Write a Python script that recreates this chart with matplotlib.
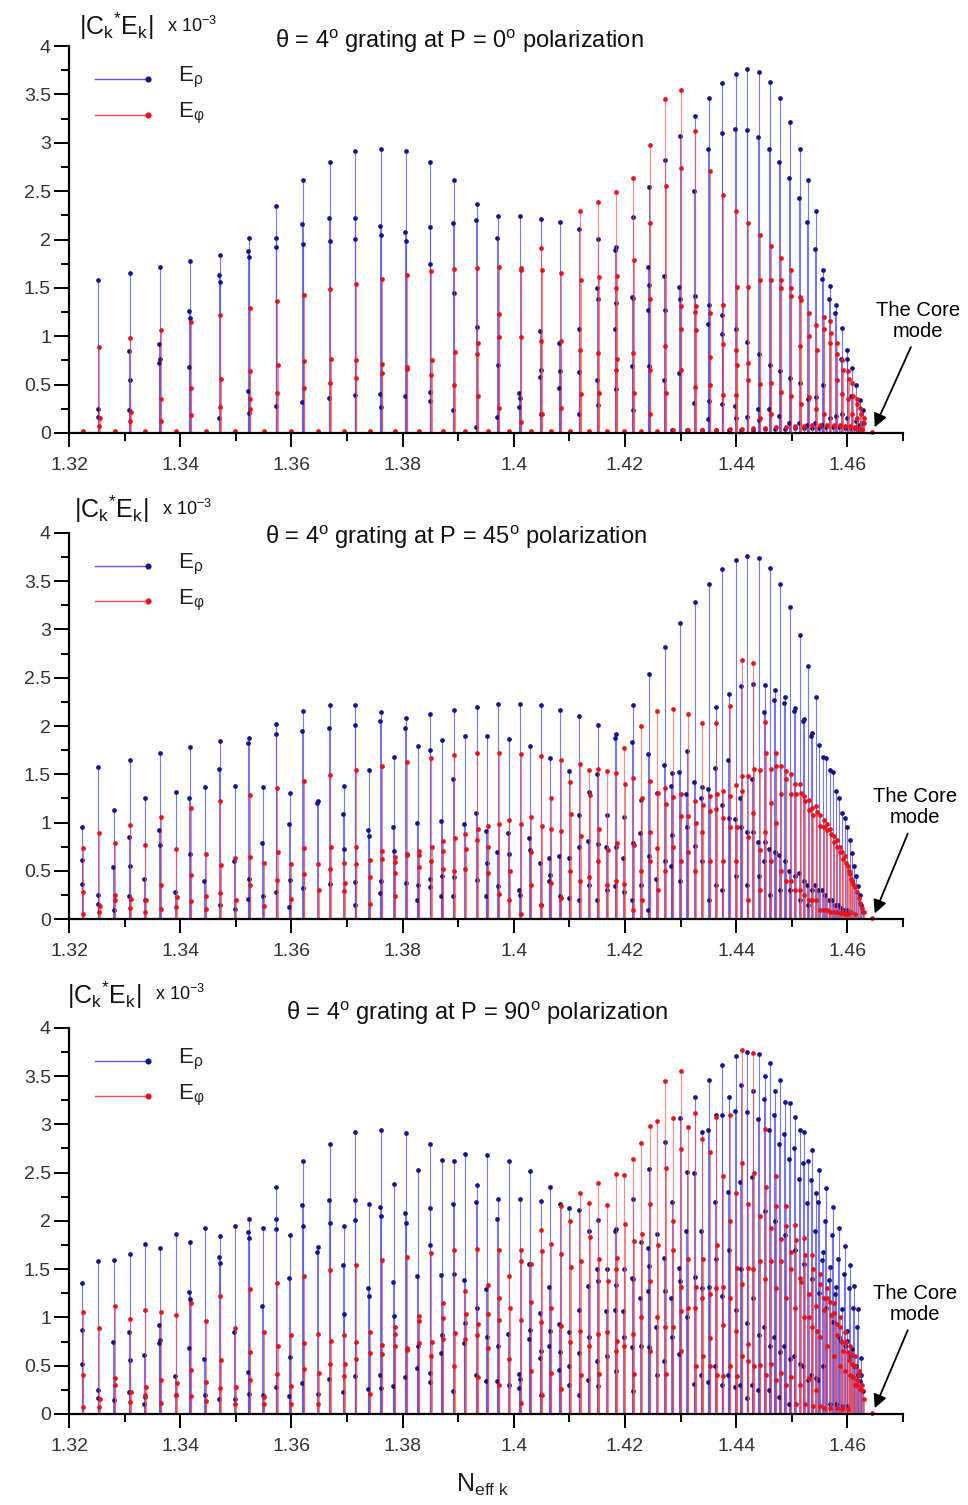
import numpy as np
import matplotlib
matplotlib.use("Agg")
import matplotlib.pyplot as plt

plt.rcParams['font.family'] = ['Liberation Sans', 'DejaVu Sans']
plt.rcParams['mathtext.fontset'] = 'custom'
plt.rcParams['mathtext.rm'] = 'Liberation Sans'
plt.rcParams['mathtext.it'] = 'Liberation Sans:italic'

# effective index of the cladding modes (same set in all three panels)
neff = [1.3224, 1.3253, 1.3281, 1.3309, 1.3336, 1.3364, 1.3392, 1.3418, 1.3445, 1.3471,
        1.3498, 1.3524, 1.3549, 1.3573, 1.3598, 1.3621, 1.3647, 1.3669, 1.3694, 1.3715,
        1.3740, 1.3761, 1.3785, 1.3806, 1.3828, 1.3850, 1.3871, 1.3892, 1.3912, 1.3933,
        1.3952, 1.3972, 1.3991, 1.4011, 1.4029, 1.4048, 1.4065, 1.4083, 1.4100, 1.4118,
        1.4135, 1.4151, 1.4167, 1.4183, 1.4198, 1.4214, 1.4228, 1.4243, 1.4257, 1.4271,
        1.4285, 1.4299, 1.4312, 1.4325, 1.4338, 1.4351, 1.4363, 1.4375, 1.4387, 1.4399,
        1.4409, 1.4420, 1.4430, 1.4441, 1.4451, 1.4461, 1.4470, 1.4479, 1.4488, 1.4497,
        1.4505, 1.4514, 1.4521, 1.4529, 1.4536, 1.4543, 1.4549, 1.4556, 1.4562, 1.4568,
        1.4574, 1.4580, 1.4585, 1.4590, 1.4595, 1.4600, 1.4604, 1.4608, 1.4612, 1.4616,
        1.4619, 1.4622, 1.4625, 1.4628]
core_neff = 1.4645

# P = 0 deg
p1_erho = [[], [1.58, 0.25, 0.17], [], [1.65, 0.85, 0.55, 0.24], [], [1.72, 0.92, 0.77, 0.72],
           [], [1.78, 1.26, 1.19, 0.68], [], [1.84, 1.63, 1.56, 0.15], [], [2.02, 1.88, 1.82, 0.43, 0.21],
           [], [2.35, 2.02, 1.92, 0.28], [], [2.62, 2.16, 1.95, 0.32], [], [2.80, 2.22, 1.98, 0.36],
           [], [2.92, 2.22, 2.01, 0.39], [], [2.94, 2.14, 2.05, 0.40, 0.27], [], [2.91, 2.08, 1.98, 0.38],
           [], [2.80, 2.13, 1.75, 0.42, 0.33], [], [2.62, 2.17, 1.45, 0.24], [], [2.37, 2.20, 1.10, 0.06],
           [], [2.24, 2.02, 0.70, 0.17], [], [2.24, 0.41, 0.36, 0.27], [], [2.21, 1.05, 0.65, 0.58, 0.20],
           [], [2.18, 0.93, 0.64, 0.46], [], [2.11, 1.08, 0.63, 0.20], [], [2.01, 1.50, 1.38, 0.55, 0.29],
           [], [1.92, 1.89, 1.34, 1.08, 0.45], [], [2.23, 1.41, 1.40, 0.69, 0.24], [], [2.54, 1.72, 1.53, 1.27, 0.69],
           [], [2.82, 1.62, 1.27, 0.55], [0.03], [3.07, 1.51, 1.38, 0.62], [0.03], [3.28, 2.50, 1.42, 0.31],
           [0.03], [3.46, 2.94, 1.32, 1.13, 0.33, 0.14], [0.03], [3.62, 3.10, 1.22, 1.02, 0.30],
           [0.03], [3.71, 3.14, 1.08, 0.28, 0.15], [0.03], [3.76, 3.13, 0.94, 0.17],
           [0.03], [3.73, 3.06, 0.82, 0.25, 0.13], [0.04], [3.63, 2.94, 0.70, 0.25],
           [0.04], [3.46, 2.80, 0.64, 0.18], [0.04], [3.22, 2.64, 0.57, 0.10],
           [0.05], [2.94, 2.43, 0.52, 0.10], [0.05], [2.62, 2.18, 0.35, 0.08],
           [0.05], [2.29, 1.90, 0.37, 0.10], [0.05], [1.68, 1.59, 0.50, 0.08],
           [0.06], [1.52, 1.39, 0.15], [0.06], [1.32, 1.24, 0.18], [0.06], [1.09, 0.76, 0.20],
           [0.05], [0.86, 0.76, 0.16], [0.05], [0.67, 0.38], [0.05], [0.50, 0.12],
           [0.04], [0.34, 0.08], [0.04], [0.24, 0.10]]
p1_ephi = [[0.02], [0.89, 0.15, 0.07], [0.02], [0.98, 0.22, 0.12], [0.02], [1.06, 0.35, 0.12],
           [0.02], [1.15, 0.46, 0.19], [0.02], [1.22, 0.56, 0.27], [0.02], [1.29, 0.64, 0.35, 0.25],
           [0.02], [1.36, 0.70, 0.41], [0.02], [1.43, 0.74, 0.47], [0.02], [1.49, 0.76, 0.52],
           [0.02], [1.54, 0.75, 0.57], [0.02], [1.59, 0.71, 0.62], [0.02], [1.63, 0.68, 0.66],
           [0.02], [1.67, 0.75, 0.60], [0.02], [1.70, 0.84, 0.50], [0.02], [1.71, 0.93, 0.82, 0.38],
           [0.02], [1.72, 1.23, 0.99, 0.26], [0.02], [1.71, 1.68, 0.99, 0.11], [0.02], [1.91, 1.69, 0.95, 0.20],
           [0.02], [1.65, 0.95, 0.26], [0.02], [2.29, 1.58, 0.86, 0.40], [0.02], [2.39, 1.61, 0.83, 0.41],
           [0.02], [2.49, 1.62, 1.50, 0.76, 0.65], [0.02], [2.64, 1.79, 0.83, 0.41], [0.02], [2.98, 2.17, 1.38, 0.65, 0.20],
           [0.02], [3.45, 2.55, 0.90, 0.41], [0.03], [3.55, 2.74, 1.31, 1.07, 0.65], [0.03], [3.12, 1.31, 1.25, 1.06, 0.48],
           [0.03], [2.71, 1.24, 0.79, 0.50], [0.03], [2.46, 1.32, 0.92, 0.39],
           [0.04], [2.29, 1.51, 0.86, 0.70, 0.39], [0.04], [2.17, 1.51, 0.72, 0.55],
           [0.05], [2.05, 1.58, 0.51, 0.16], [0.05], [1.93, 1.58, 0.52, 0.20],
           [0.06], [1.81, 1.58, 1.50, 0.42], [0.06], [1.68, 1.50, 1.42, 0.38],
           [0.07], [1.41, 1.37, 0.90, 0.30], [0.07], [1.24, 1.00, 0.37],
           [0.08], [1.12, 0.86, 0.25], [0.08], [1.20, 1.08, 0.20],
           [0.08], [1.16, 1.03, 0.93], [0.08], [0.93, 0.82, 0.55], [0.08], [0.75, 0.65, 0.40],
           [0.07], [0.64, 0.56, 0.35], [0.07], [0.52, 0.38, 0.20], [0.06], [0.35, 0.30, 0.15],
           [0.05], [0.26, 0.20], [0.04], [0.15, 0.10]]

# P = 45 deg
p2_erho = [[0.95, 0.61, 0.36], [1.58, 0.25, 0.16], [1.13, 0.54, 0.10], [1.65, 0.85, 0.55, 0.24],
           [1.25, 0.42, 0.20], [1.72, 0.92, 0.77], [1.32, 0.28], [1.78, 1.26, 0.68],
           [1.37, 0.40], [1.84, 1.56, 0.15], [1.38, 0.60, 0.11], [1.88, 1.82, 0.42, 0.21],
           [1.37, 0.79, 0.24], [2.02, 1.92, 0.28], [1.31, 0.99, 0.41, 0.13], [2.16, 1.95, 0.32],
           [1.22, 1.20], [2.22, 1.98, 0.36], [1.38, 1.09, 0.73], [2.22, 2.01, 0.39, 0.15],
           [1.54, 0.92, 0.86], [2.14, 2.05, 0.40, 0.27], [1.68, 0.95, 0.71], [2.08, 1.98, 0.38],
           [1.79, 1.00, 0.35, 0.20], [2.12, 1.75, 0.42, 0.33], [1.86, 1.02, 0.45, 0.24], [2.17, 1.45, 0.44, 0.24],
           [1.90, 0.99], [2.20, 1.10, 0.41], [1.90, 0.91, 0.58, 0.24], [2.23, 0.70, 0.34],
           [1.87, 0.89, 0.68], [2.23, 0.30, 0.25], [1.79, 0.84, 0.72], [2.22, 0.58, 0.15],
           [1.67, 0.63, 0.46, 0.40], [2.17, 0.65, 0.24], [1.53, 0.63, 0.22], [2.10, 1.08, 0.75, 0.20],
           [1.32, 0.81, 0.35], [2.01, 1.50, 0.78, 0.20], [1.08, 0.75, 0.30], [1.92, 1.88, 0.75, 0.34],
           [1.06, 0.63, 0.28], [2.22, 1.83, 0.79, 0.20], [1.23, 0.89, 0.35], [2.54, 1.71, 0.65, 0.10],
           [1.31, 0.42], [2.82, 1.60, 0.60], [1.51, 1.38, 0.87, 0.55], [3.07, 1.52, 0.40],
           [1.74, 1.30, 0.95], [3.28, 1.42, 0.76], [1.37, 1.25, 0.60], [3.47, 1.35, 0.20],
           [2.20, 1.57, 0.35], [3.62, 1.18, 0.30], [2.33, 1.65, 1.05], [3.72, 1.04, 0.45],
           [2.41, 1.26, 0.95], [3.76, 0.90, 0.35], [2.43, 1.45, 0.90], [3.74, 0.80, 0.45],
           [2.42, 2.14, 0.80, 0.60], [3.64, 0.73, 0.25], [2.37, 2.27, 0.70], [3.47, 0.67, 0.30],
           [2.30, 2.24, 0.60], [3.23, 0.50, 0.30], [2.19, 2.16, 0.45], [2.94, 0.48, 0.20],
           [2.07, 2.05, 0.40], [2.62, 0.35, 0.15], [1.93, 1.90, 0.30], [2.30, 0.35],
           [1.80, 0.30], [1.68, 0.30], [1.67, 0.25], [1.54, 0.20], [1.52, 0.20], [1.33, 0.15],
           [1.25, 0.15], [1.10, 0.12], [1.05, 0.10], [0.95, 0.10], [0.82, 0.08], [0.69, 0.07],
           [0.55], [0.45], [0.34], [0.25], [0.15], [0.08]]
p2_ephi = [[0.74, 0.28, 0.05], [0.89, 0.14, 0.07], [0.79, 0.25, 0.20], [0.98, 0.21, 0.12],
           [0.77, 0.20, 0.08], [1.06, 0.35, 0.11], [0.73, 0.23, 0.13], [1.15, 0.46, 0.19],
           [0.68, 0.24, 0.11], [1.22, 0.56, 0.27], [0.63, 0.20], [1.29, 0.64, 0.35],
           [0.58, 0.14], [1.36, 0.70, 0.41], [0.57, 0.21], [1.43, 0.74, 0.47],
           [0.57, 0.30], [1.49, 0.75, 0.52], [0.58, 0.38, 0.29], [1.54, 0.75, 0.57],
           [0.61, 0.44, 0.16], [1.59, 0.71, 0.62], [0.64, 0.59, 0.48, 0.24], [1.63, 0.68, 0.66],
           [0.71, 0.66, 0.54], [1.67, 0.75, 0.60], [0.81, 0.71, 0.52], [1.70, 0.84, 0.50],
           [0.88, 0.73, 0.52], [1.72, 0.93, 0.82], [0.96, 0.75, 0.48], [1.72, 0.99, 0.26],
           [1.03, 0.50, 0.20], [1.71, 0.99, 0.05], [1.06, 0.70, 0.35], [1.69, 0.97, 0.15],
           [1.25, 0.93, 0.38], [1.65, 0.91, 0.22], [1.42, 1.09, 0.50], [1.61, 0.86, 0.40],
           [1.54, 1.29, 0.44], [1.56, 0.93, 0.60], [1.53, 0.72, 0.35], [1.51, 0.79, 0.40],
           [1.77, 1.40, 0.37], [1.46, 0.77, 0.10], [2.00, 1.26, 0.50, 0.20], [1.43, 0.90, 0.60],
           [2.16, 1.31, 0.74, 0.30], [1.36, 1.19, 0.50], [2.18, 1.27, 0.75], [1.30, 1.07, 0.60],
           [2.12, 1.07, 0.70], [1.22, 1.00, 0.50], [2.03, 1.18, 0.90], [1.28, 1.12, 0.60],
           [2.03, 1.30, 1.14], [1.33, 1.05, 0.60], [2.21, 1.28, 0.95], [1.39, 0.95, 0.60],
           [2.68, 1.48, 1.33], [1.48, 0.85, 0.20], [2.65, 1.55, 1.10], [1.54, 0.72, 0.30],
           [2.04, 1.72, 0.90], [1.56, 1.20, 0.60], [1.72, 1.59, 1.00], [1.59, 1.30, 0.50],
           [1.53, 1.45, 0.40], [1.50, 1.30, 0.40], [1.40, 1.30, 0.30], [1.40, 1.31, 0.30],
           [1.28, 1.22, 0.25], [1.23, 1.13, 0.20], [1.15, 1.08, 0.20], [1.17, 1.11, 0.20],
           [1.08, 0.97, 0.10], [1.03, 0.95, 0.10], [0.99, 0.92, 0.10], [0.93, 0.88, 0.08],
           [0.86, 0.80, 0.08], [0.82, 0.75, 0.08], [0.75, 0.70, 0.06], [0.70, 0.62, 0.06],
           [0.65, 0.58, 0.05], [0.55, 0.50, 0.05], [0.47, 0.42], [0.40, 0.36], [0.33, 0.05],
           [0.28], [0.22], [0.17], [0.12], [0.08]]

# P = 90 deg
p3_erho = [[1.36, 0.87, 0.52], [1.58, 0.25, 0.17], [1.59, 0.75, 0.14], [1.66, 0.85, 0.56, 0.23],
           [1.76, 0.61, 0.18, 0.10], [1.72, 0.92, 0.77, 0.73], [1.86, 0.39, 0.20], [1.78, 1.26, 1.19, 0.68],
           [1.93, 0.57, 0.20], [1.84, 1.63, 1.56, 0.15], [1.95, 0.85, 0.16], [2.02, 1.88, 1.82, 0.43, 0.21],
           [1.93, 1.12, 0.20], [2.35, 2.02, 1.92, 0.28], [1.85, 1.41, 0.59, 0.19], [2.62, 2.16, 1.95, 0.32],
           [1.73, 1.68, 0.21], [2.80, 2.22, 1.98, 0.36], [1.95, 1.54, 1.04, 0.23], [2.92, 2.22, 2.01, 0.39],
           [2.17, 1.30, 1.22, 0.26], [2.94, 2.14, 2.05, 0.40, 0.27], [2.38, 1.37, 1.01, 0.29], [2.91, 2.08, 1.98, 0.38],
           [2.53, 1.43, 0.70, 0.48], [2.80, 2.13, 1.75, 0.42, 0.33], [2.63, 1.44, 0.82, 0.63], [2.62, 2.17, 1.45, 0.24],
           [2.69, 1.39, 0.94, 0.74], [2.37, 2.20, 1.10, 0.40], [2.68, 1.29, 0.80, 0.34], [2.23, 2.02, 0.70, 0.34],
           [2.62, 0.83, 0.30], [2.23, 0.41, 0.36, 0.27], [2.52, 1.55, 0.87, 0.78], [2.21, 1.05, 0.65, 0.58, 0.20],
           [2.35, 1.31, 0.86, 0.70], [2.17, 0.93, 0.64, 0.46], [2.13, 0.85, 0.50, 0.30], [2.11, 1.08, 0.63, 0.20],
           [1.90, 1.33, 0.80, 0.35], [2.01, 1.50, 1.38, 0.55, 0.29], [1.50, 1.07, 0.60], [1.92, 1.89, 1.34, 1.08, 0.45],
           [1.50, 1.07, 0.80], [2.23, 1.41, 1.40, 0.69, 0.24], [1.78, 1.20, 0.70], [2.54, 1.72, 1.53, 1.27, 0.69],
           [1.86, 0.90, 0.40], [2.82, 1.62, 1.27, 0.55], [2.20, 1.20, 0.80], [3.07, 1.51, 1.38, 0.62],
           [2.51, 1.90, 1.00], [3.28, 2.50, 1.42, 0.31], [2.92, 1.90, 1.30, 0.40], [3.46, 2.94, 1.32, 0.33],
           [3.10, 2.20, 1.60, 0.50], [3.61, 3.10, 1.22, 0.30], [3.28, 2.30, 1.70, 0.40], [3.71, 3.14, 1.08, 0.28],
           [3.41, 2.40, 1.50, 0.30], [3.75, 3.13, 0.94, 0.17], [3.35, 2.45, 1.20, 0.30], [3.73, 3.06, 0.82, 0.25],
           [3.50, 3.26, 2.10, 0.90], [3.63, 2.94, 0.70, 0.25], [3.35, 3.10, 2.00, 0.80], [3.46, 2.80, 0.64, 0.18],
           [3.23, 2.90, 1.85, 0.70], [3.22, 2.64, 0.57, 0.10], [3.08, 2.75, 1.70, 0.60], [2.94, 2.43, 0.52],
           [2.92, 2.60, 1.55, 0.50], [2.62, 2.18, 0.35], [2.73, 2.42, 1.40, 0.40], [2.29, 1.90, 0.37],
           [2.53, 2.20, 1.25, 0.35], [1.68, 1.59, 0.50], [2.34, 2.00, 1.10], [1.52, 1.39, 0.10],
           [2.14, 1.85, 0.95], [1.32, 1.24, 0.10], [1.93, 1.60, 0.80], [1.09, 0.76, 0.08],
           [1.74, 1.45, 0.70], [0.86, 0.76, 0.08], [1.54, 1.30, 0.60], [0.67, 0.38],
           [1.33, 1.10, 0.50], [0.50], [1.09, 0.90, 0.40], [0.34], [0.58, 0.40], [0.24]]
p3_ephi = [[1.06, 0.40, 0.07], [0.89, 0.15, 0.07], [1.12, 0.37, 0.30], [0.98, 0.23, 0.12],
           [1.08, 0.28, 0.20], [1.06, 0.35, 0.11], [1.03, 0.32, 0.20], [1.15, 0.46, 0.19],
           [0.96, 0.33, 0.13], [1.22, 0.56, 0.27], [0.89, 0.28, 0.10], [1.29, 0.64, 0.35],
           [0.85, 0.18, 0.10], [1.36, 0.70, 0.41], [0.82, 0.29, 0.10], [1.43, 0.74, 0.47],
           [0.83, 0.42, 0.10], [1.49, 0.76, 0.52], [0.82, 0.52, 0.39], [1.54, 0.75, 0.57],
           [0.85, 0.63, 0.21], [1.59, 0.71, 0.62], [0.90, 0.83, 0.70], [1.63, 0.68, 0.66],
           [1.01, 0.96, 0.74], [1.67, 0.75, 0.60], [1.15, 0.99, 0.78], [1.70, 0.84, 0.50],
           [1.27, 1.04, 0.78], [1.71, 0.93, 0.82, 0.38], [1.34, 1.04, 0.68], [1.70, 1.20, 0.97, 0.30],
           [1.43, 1.10, 0.57], [1.70, 1.58, 0.97, 0.11], [1.55, 1.16, 0.45], [1.91, 1.69, 0.95, 0.20],
           [1.76, 1.10, 0.42], [2.15, 1.66, 0.91, 0.26], [2.00, 1.52, 0.75], [2.29, 1.58, 0.86, 0.40],
           [2.18, 1.83, 0.70], [2.39, 1.61, 0.83, 0.41], [2.16, 1.38, 0.85], [2.49, 1.62, 1.50, 0.76, 0.65],
           [2.48, 1.97, 0.70], [2.64, 1.79, 0.83, 0.41], [2.81, 1.86, 1.00], [2.98, 2.17, 1.38, 0.65],
           [3.03, 1.75, 1.00], [3.45, 2.55, 0.90, 0.41], [3.07, 2.00, 1.70, 0.90], [3.55, 2.74, 1.31, 1.07, 0.65],
           [2.97, 1.60, 1.10], [3.12, 1.31, 1.10, 0.50], [2.85, 1.60, 1.20, 0.60], [2.71, 1.24, 0.79, 0.50],
           [3.08, 1.75, 1.30, 0.40], [2.46, 1.32, 0.92, 0.39], [3.10, 2.00, 1.20, 0.50], [2.29, 1.51, 0.86, 0.39],
           [3.77, 2.60, 1.35, 0.60], [2.17, 1.51, 0.72, 0.55], [3.74, 2.50, 1.50, 0.50], [2.05, 1.58, 0.51],
           [2.95, 2.35, 1.40, 0.40], [1.93, 1.58, 0.52], [2.46, 2.15, 1.30, 0.35], [1.81, 1.58, 0.42],
           [2.15, 1.95, 1.20, 0.30], [1.68, 1.50, 0.38], [1.96, 1.80, 1.10, 0.10], [1.41, 1.37, 0.30],
           [1.82, 1.65, 1.00, 0.10], [1.24, 1.00, 0.37], [1.65, 1.50, 0.90, 0.08], [1.12, 0.86, 0.25],
           [1.45, 1.35, 0.80, 0.08], [1.20, 1.08, 0.06], [1.30, 1.20, 0.70], [1.16, 1.03, 0.06],
           [1.15, 1.05, 0.60], [0.93, 0.82, 0.06], [1.00, 0.90, 0.50], [0.75, 0.65, 0.05],
           [0.85, 0.75, 0.45], [0.64, 0.56, 0.05], [0.70, 0.62, 0.40], [0.52, 0.38],
           [0.60, 0.50, 0.30], [0.35, 0.30], [0.45, 0.40], [0.26], [0.30, 0.25], [0.15]]

titles = ['θ = 4$^{\\rm o}$ grating at P = 0$^{\\rm o}$ polarization',
          'θ = 4$^{\\rm o}$ grating at P = 45$^{\\rm o}$ polarization',
          'θ = 4$^{\\rm o}$ grating at P = 90$^{\\rm o}$ polarization']
xtick_labels = ['1.32', '1.34', '1.36', '1.38', '1.4', '1.42', '1.44', '1.46']
ytick_labels = ['0', '0.5', '1', '1.5', '2', '2.5', '3', '3.5', '4']

line_blue = '#5858e8'
line_red = '#ff4a4a'
dot_blue = '#14148c'
dot_red = '#e8121a'


def flatten(vals, shift):
    xs, ys = [], []
    for x0, group in zip(neff, vals):
        for j, v in enumerate(group):
            xs.append(x0 + shift * (j % 2))
            ys.append(v)
    return np.array(xs), np.array(ys)


def panel(ax, erho, ephi, title, tpos, lab_pos, core_pos):
    bx, by = flatten(erho, -0.00015)
    rx, ry = flatten(ephi, 0.0001)
    rx = rx + 0.0001
    ax.vlines(bx, 0, by, color=line_blue, lw=0.8, alpha=0.8, zorder=2)
    ax.plot(bx, by, 'o', ms=3.4, color=dot_blue, mec='none', zorder=3, clip_on=False)
    ax.vlines(rx, 0, ry, color=line_red, lw=0.8, alpha=0.65, zorder=4)
    ax.plot(rx, ry, 'o', ms=3.4, color=dot_red, mec='none', zorder=5, clip_on=False)
    ax.plot([core_neff], [0.01], 'o', ms=3.4, color=dot_red, mec='none', zorder=5, clip_on=False)

    ax.set_xlim(1.32, 1.47)
    ax.set_ylim(0, 4)
    for s in ['top', 'right']:
        ax.spines[s].set_visible(False)
    for s in ['left', 'bottom']:
        ax.spines[s].set_linewidth(1.6)
        ax.spines[s].set_zorder(6)
    ax.set_xticks(np.linspace(1.32, 1.46, 8))
    ax.set_xticklabels(xtick_labels)
    ax.set_xticks(np.linspace(1.33, 1.47, 8), minor=True)
    ax.set_yticks(np.linspace(0, 4, 9))
    ax.set_yticklabels(ytick_labels)
    ax.set_yticks(np.linspace(0.25, 3.75, 8), minor=True)
    ax.tick_params(axis='both', which='major', direction='out', width=1.4, labelsize=14,
                   labelcolor='#333333')
    ax.tick_params(axis='y', which='major', length=11, pad=2)
    ax.tick_params(axis='y', which='minor', length=6, width=1.4)
    ax.tick_params(axis='x', which='major', length=10, pad=7)
    ax.tick_params(axis='x', which='minor', length=6, width=1.4)

    ax.text(tpos[0], tpos[1], title, transform=ax.transAxes, ha='center', va='center',
            fontsize=17, color='#111111')
    ax.text(lab_pos[0], lab_pos[1], r'$\mathrm{|C_k{}^{*}E_k|}$', transform=ax.transAxes,
            ha='left', va='center', fontsize=18, color='#111111')
    ax.text(lab_pos[0] + 0.105, lab_pos[1] + 0.002, r'x 10$^{\mathrm{-3}}$', transform=ax.transAxes,
            ha='left', va='center', fontsize=13, color='#111111')

    # legend drawn by hand: line with a dot at its right end
    for yy, lc, dc, lab in [(0.915, line_blue, dot_blue, 'E$_{\\mathrm{ρ}}$'),
                            (0.823, line_red, dot_red, 'E$_{\\mathrm{φ}}$')]:
        ax.plot([0.031, 0.095], [yy, yy], color=lc, lw=1.0, transform=ax.transAxes, clip_on=False)
        ax.plot([0.095], [yy], 'o', ms=3.4, color=dc, transform=ax.transAxes, clip_on=False)
        ax.text(0.131, yy + 0.003, lab, transform=ax.transAxes, ha='left', va='center',
                fontsize=16, color='#222222')

    ax.annotate('The Core\nmode', xy=(core_neff + 0.0004, 0.06), xycoords='data',
                xytext=core_pos, textcoords='axes fraction', ha='center', va='center',
                fontsize=14.5, linespacing=1.1, annotation_clip=False,
                arrowprops=dict(arrowstyle='-|>', color='black', lw=1.3, mutation_scale=20,
                                shrinkA=3, shrinkB=0, relpos=(0.45, 0.0)))


fig = plt.figure(figsize=(9.68, 15.05), dpi=100)
ax1 = fig.add_axes([0.0713, 0.7123, 0.8616, 0.2571])
ax2 = fig.add_axes([0.0713, 0.3892, 0.8616, 0.2568])
ax3 = fig.add_axes([0.0713, 0.0605, 0.8616, 0.2566])

panel(ax1, p1_erho, p1_ephi, titles[0], (0.468, 1.013), (0.012, 1.05), (1.018, 0.29))
panel(ax2, p2_erho, p2_ephi, titles[1], (0.464, 0.989), (0.006, 1.06), (1.014, 0.29))
panel(ax3, p3_erho, p3_ephi, titles[2], (0.489, 1.038), (-0.002, 1.085), (1.014, 0.285))

fig.text(0.499, 0.0135, r'N$_{\mathrm{eff\ k}}$', ha='center', va='center', fontsize=18, color='#222222')

fig.savefig('out.png', dpi=100, facecolor='white')
